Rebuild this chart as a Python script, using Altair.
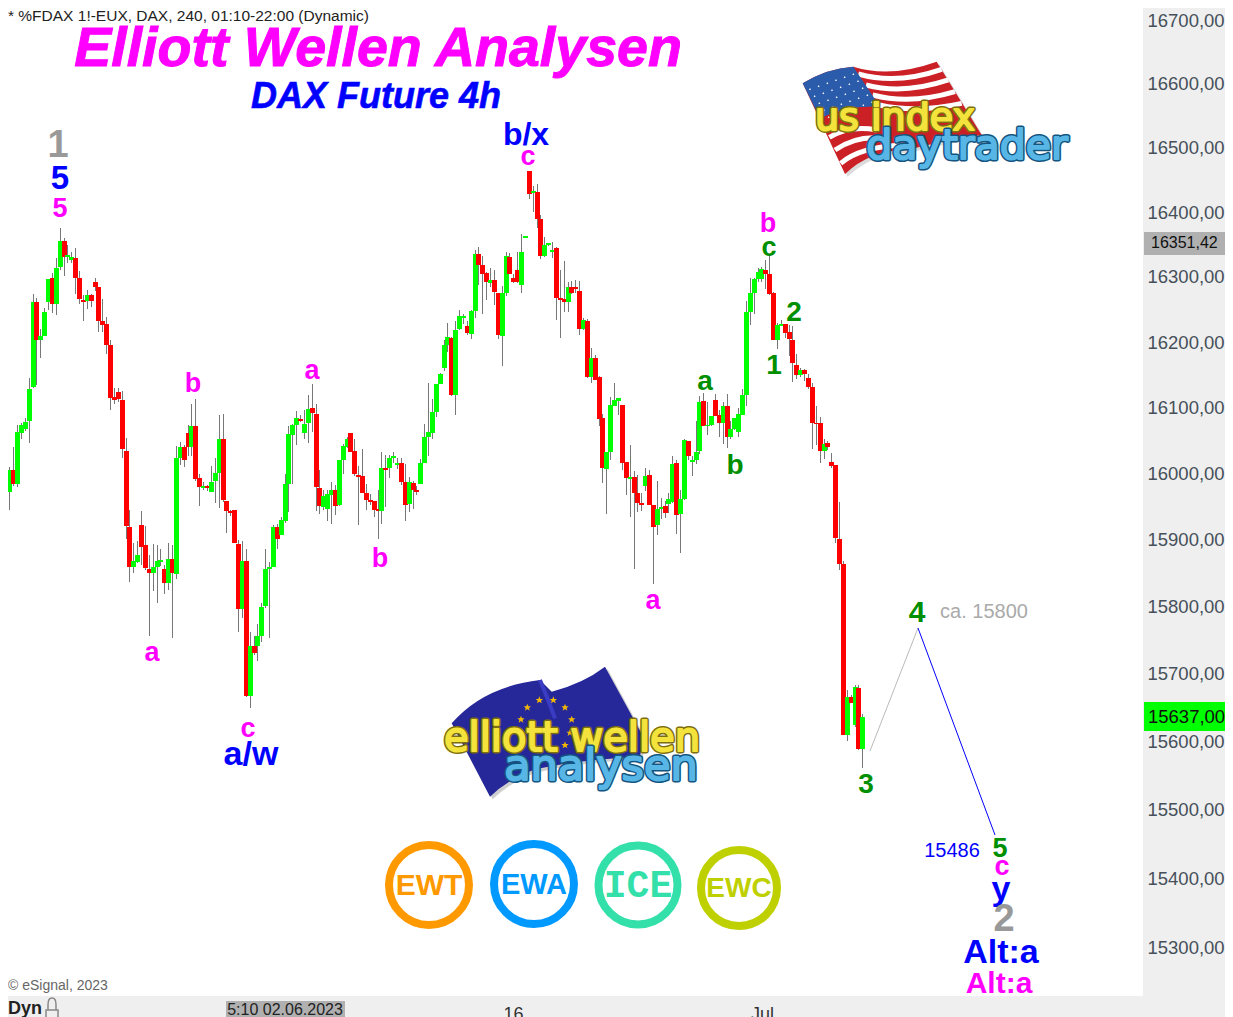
import re
import altair as alt
import pandas as pd

# open, high, low, close for every 4h bar
opens = [15938,15955,15973,16006,15985,16062,16068,16080,16132,16262,16204,16210,16262,16299,16259,16316,16356,16331,16327,16330,16299,16265,16264,16273,16293,16285,16233,16228,16196,16117,16125,16112,16035,15920,15860,15868,15923,15893,15857,15851,15860,15868,15857,15836,15872,15850,16024,16041,16062,16041,16072,15994,15979,15982,15973,15990,16002,16053,15960,15944,15946,15895,15797,15869,15668,15742,15742,15757,15802,15857,15860,15920,15908,15929,15985,16059,16075,16083,16062,16078,16100,16091,15979,15950,15947,15968,15976,15953,16021,16041,16062,16035,15999,15997,15971,15961,15960,15947,15944,16009,16009,16024,16014,16017,15988,15955,15986,15976,15985,16017,16056,16062,16094,16137,16161,16196,16207,16120,16221,16237,16225,16213,16248,16336,16319,16306,16291,16296,16276,16210,16276,16331,16299,16311,16288,16361,16465,16431,16432,16390,16333,16350,16339,16345,16268,16266,16262,16285,16285,16279,16220,16233,16147,16176,16147,16085,16008,16033,16103,16111,16105,16018,15993,15996,15971,15956,15982,15999,15953,15923,15947,15952,15955,15958,16017,15940,15962,16050,16018,16021,16035,16111,16072,16075,16112,16090,16078,16103,16056,16068,16064,16090,16120,16247,16276,16297,16297,16311,16305,16276,16204,16225,16228,16216,16204,16166,16151,16158,16146,16132,16078,16078,16035,16047,16018,16014,15902,15865,15611,15666,15625,15680,15590]
highs = [15962,15989,16011,16041,16075,16078,16085,16146,16274,16269,16220,16253,16297,16306,16330,16376,16361,16350,16339,16345,16310,16273,16280,16274,16299,16285,16266,16239,16204,16131,16131,16126,16055,15946,15896,15899,15944,15922,15878,15895,15893,15887,15863,15896,15893,16043,16049,16044,16075,16106,16114,16000,15988,15983,16012,16024,16090,16091,15960,15946,15946,15901,15899,15887,15763,15757,15775,15806,15887,15868,15923,15925,15935,16000,16073,16076,16095,16089,16097,16120,16137,16106,16006,15976,15976,15988,15983,16021,16046,16056,16062,16053,16012,16038,15985,15970,15960,15976,16033,16029,16029,16033,16024,16024,16015,15996,15989,15982,16023,16076,16138,16114,16137,16153,16204,16230,16208,16233,16250,16244,16233,16250,16342,16347,16333,16308,16314,16311,16276,16287,16339,16337,16305,16339,16367,16364,16465,16442,16444,16397,16362,16353,16355,16347,16311,16325,16293,16294,16296,16294,16237,16236,16191,16181,16149,16091,16033,16117,16138,16115,16105,16018,16044,16005,15999,15971,16009,16006,15953,15989,15964,15960,15971,16027,16021,15976,16053,16050,16027,16080,16118,16123,16109,16088,16121,16097,16109,16121,16080,16085,16100,16129,16263,16299,16299,16314,16316,16327,16333,16277,16230,16234,16228,16227,16225,16182,16161,16159,16152,16138,16103,16087,16053,16050,16032,16014,15958,15869,15677,15670,15685,15685,15642]
lows = [15905,15946,15946,15982,15980,16053,16065,16047,16131,16135,16176,16210,16250,16245,16242,16311,16302,16322,16322,16274,16259,16233,16251,16255,16279,16216,16216,16182,16097,16106,16109,16024,15902,15838,15851,15866,15863,15856,15757,15824,15806,15862,15820,15826,15754,15842,16014,16011,16028,16028,15990,15952,15976,15975,15973,15956,15949,15958,15911,15937,15896,15763,15784,15666,15651,15729,15720,15748,15799,15754,15860,15887,15908,15926,15943,15985,16044,16079,16053,16047,16064,15944,15940,15946,15929,15925,15938,15952,16000,16040,16034,15997,15923,15971,15946,15953,15935,15902,15925,15950,15994,16017,16008,15983,15929,15943,15947,15968,15985,16017,16027,16053,16087,16137,16156,16185,16118,16090,16219,16229,16211,16205,16237,16288,16243,16265,16285,16257,16205,16164,16271,16305,16291,16291,16276,16361,16421,16401,16376,16328,16331,16348,16330,16234,16207,16247,16247,16274,16276,16211,16219,16146,16138,16143,16073,15987,15940,16021,16103,16090,16006,15968,15935,15857,15943,15944,15974,15953,15835,15908,15932,15934,15941,15956,15910,15881,15961,16021,15997,16015,16031,16072,16059,16072,16088,16056,16046,16040,16053,16067,16056,16090,16103,16227,16244,16293,16293,16282,16273,16204,16190,16225,16207,16179,16140,16144,16147,16141,16129,16038,16044,16017,16023,16037,16009,15896,15856,15611,15602,15658,15622,15589,15562]
closes = [15955,15973,16006,15985,16064,16075,16079,16129,16262,16204,16210,16247,16297,16259,16314,16356,16331,16334,16331,16299,16266,16262,16273,16264,16285,16233,16227,16196,16115,16112,16114,16038,15922,15860,15869,15878,15890,15859,15851,15860,15869,15871,15836,15872,15851,16024,16041,16021,16041,16073,15993,15980,15982,15979,15988,16002,16053,15961,15944,15941,15896,15797,15869,15668,15742,15732,15757,15800,15857,15860,15920,15902,15931,15985,16061,16075,16085,16080,16076,16099,16093,15980,15952,15967,15970,15976,15952,16021,16043,16053,16034,16000,15996,15971,15961,15958,15946,15944,16009,16006,16024,16027,16017,15988,15953,15988,15976,15973,16017,16056,16064,16094,16137,16152,16196,16208,16120,16219,16240,16241,16214,16248,16336,16319,16305,16293,16296,16277,16211,16276,16333,16305,16293,16293,16339,16364,16429,16434,16390,16333,16350,16353,16342,16268,16265,16262,16285,16276,16282,16220,16234,16147,16176,16143,16084,16009,16033,16105,16112,16115,16017,15994,15996,15971,15956,15953,15997,15953,15920,15947,15950,15941,15962,16015,15938,15962,16052,16027,16021,16033,16109,16072,16075,16088,16088,16078,16103,16056,16068,16085,16091,16120,16247,16276,16297,16308,16313,16305,16274,16204,16227,16228,16214,16205,16169,16151,16158,16152,16132,16078,16076,16035,16046,16041,16012,15904,15865,15611,15666,15658,15682,15590,15637]

# wave labels: text, bar position, price, colour, font size
MAG, BLU, GRN, GRY = "#ff00ff", "#0000ff", "#008f00", "#999999"
lab_text = ["1","5","5","b/x","c","b","a","a","c","a/w","b","a","b","c","2","1","a","b","3","4","5","c","y","2","Alt:a","Alt:a"]
lab_bar = [14.6,15.1,15.1,135.3,135.8,49.4,80.1,38.8,63.6,64.3,97.6,168,197.7,197.9,204.4,199.2,181.4,189.2,222.9,236.1,257.5,258,257.8,258.5,257.8,257.3]
lab_price = [16507,16455,16409,16524,16490,16140,16160,15735,15622,15584,15875,15812,16385,16348,16248,16167,16143,16015,15540,15794,15446,15420,15386,15343,15295,15250]
lab_color = [GRY,BLU,MAG,BLU,MAG,MAG,MAG,MAG,MAG,BLU,MAG,MAG,MAG,GRN,GRN,GRN,GRN,GRN,GRN,GRN,GRN,MAG,BLU,GRY,BLU,MAG]
lab_size = [38,33,27,32,27,27,27,27,27,34,27,27,27,27,28,28,28,28,28,30,27,27,34,38,34,30]

note_text = ["ca. 15800", "15486"]
note_bar = [253.5, 245.1]
note_price = [15794, 15442]
note_color = ["#aaaaaa", "#0000ff"]

proj_bar = [224, 236.4, 256.2]
proj_price = [15587, 15769, 15463]

price_ticks = list(range(15300, 16800, 100))
time_ticks = [132, 196.1]
time_names = ["16", "Jul"]

n = len(opens)
bars = pd.DataFrame({
    "i": range(n), "o": opens, "h": highs, "l": lows, "c": closes,
    "col": ["#00ff00" if c >= o else "#ff0000" for o, c in zip(opens, closes)],
    "lo": [min(o, c) for o, c in zip(opens, closes)],
    "hi": [max(o, c) for o, c in zip(opens, closes)],
})
labels = pd.DataFrame({"t": lab_text, "i": lab_bar, "p": lab_price, "col": lab_color, "fs": lab_size})
notes = pd.DataFrame({"t": note_text, "i": note_bar, "p": note_price, "col": note_color})

xs = alt.Scale(domain=[1.676, 294.4], nice=False, zero=False, round=True, padding=0)
ys = alt.Scale(type="log", domain=[15230.3, 16720], nice=False, round=True)
xexpr = f"datum.value=={time_ticks[0]}?'{time_names[0]}':'{time_names[1]}'"
X = alt.X("i:Q", scale=xs, title=None,
          axis=alt.Axis(values=time_ticks, labelExpr=xexpr, grid=False, domain=False, ticks=False,
                        labelPadding=9, labelFontSize=18, labelColor="#333333", labelFont="Liberation Sans"))
Y = alt.Y("l:Q", scale=ys, title=None,
          axis=alt.Axis(orient="right", values=price_ticks, grid=False, domain=False, ticks=False,
                        labelExpr="replace(format(datum.value,'.2f'),'.',',')", labelOffset=-1,
                        labelPadding=4, labelFontSize=18.5, labelColor="#46505a", labelFont="Liberation Sans"))
Xp = alt.X("i:Q", scale=xs, title=None)


def Yp(f):
    return alt.Y(f, scale=ys, title=None)


wicks = alt.Chart(bars).mark_rule(color="#777777", strokeWidth=1, xOffset=0.5).encode(x=X, y=Y, y2="h:Q")
bodies = alt.Chart(bars).mark_bar(size=5, xOffset=0.5).encode(
    x=Xp, y=Yp("lo:Q"), y2="hi:Q", color=alt.Color("col:N", scale=None))

seg = pd.DataFrame({"i": proj_bar[:-1], "i2": proj_bar[1:], "p": proj_price[:-1], "p2": proj_price[1:],
                    "col": ["#bbbbbb", "#0000ff"]})
proj = alt.Chart(seg).mark_rule(strokeWidth=1).encode(
    x=Xp, x2="i2:Q", y=Yp("p:Q"), y2="p2:Q", color=alt.Color("col:N", scale=None))

wave = alt.Chart(labels).mark_text(font="Liberation Sans", fontWeight="bold", baseline="middle", align="center", dy=2).encode(
    x=Xp, y=Yp("p:Q"), text="t:N", color=alt.Color("col:N", scale=None), size=alt.Size("fs:Q", scale=None))
note = alt.Chart(notes).mark_text(font="Liberation Sans", fontSize=20, baseline="middle", align="center", dy=1).encode(
    x=Xp, y=Yp("p:Q"), text="t:N", color=alt.Color("col:N", scale=None))

ONE = alt.InlineData(values=[{"a": 1}])


def txt(s, x, y, size, color, **kw):
    kw.setdefault("font", "Liberation Sans")
    kw.setdefault("align", "center")
    kw.setdefault("baseline", "middle")
    return alt.Chart(ONE).mark_text(text=s, fontSize=size, color=color, **kw).encode(
        x=alt.value(x - 8), y=alt.value(y - 8))


def box(x, x2, y, y2, color):
    return alt.Chart(ONE).mark_rect(color=color).encode(
        x=alt.value(x - 8), x2=alt.value(x2 - 8), y=alt.value(y - 8), y2=alt.value(y2 - 8))


def shp(d, ox, oy, cx, cy, R, fill=None, stroke=None, sw=0, op=1.0):
    path = re.sub(r"(-?[\d.]+),(-?[\d.]+)",
                  lambda m: f"{(ox + float(m[1]) / 3 - cx) / R:.4f},{(oy + float(m[2]) / 3 - cy) / R:.4f}", d)
    kw = {"color": fill} if fill else {"color": stroke}
    return alt.Chart(ONE).mark_point(shape=path, size=(2 * R) ** 2, filled=bool(fill), strokeWidth=sw,
                                     opacity=op, **kw).encode(x=alt.value(cx - 8), y=alt.value(cy - 8))


def outlined(s, x, y, size, fill, edge):
    f = "DejaVu Sans"
    return [txt(s, x, y, size, edge, font=f, stroke=edge, strokeWidth=5, strokeJoin="round"),
            txt(s, x, y, size, fill, font=f, stroke=fill, strokeWidth=2, strokeJoin="round")]


deco = []
# axis tags
deco += [box(1144, 1225, 232, 255, "#b0b0b0"), txt("16351,42", 1151, 243, 16, "#111111", align="left"),
         box(1144, 1225, 702, 731, "#00ff00"), txt("15637,00", 1148, 717, 18.5, "#111111", align="left")]
deco += [box(226, 345, 1001, 1017, "#b0b0b0"), txt("5:10 02.06.2023", 285, 1010, 16, "#222222")]
# headings
deco += [txt("* %FDAX 1!-EUX, DAX, 240, 01:10-22:00 (Dynamic)", 8, 16, 15.5, "#222222", align="left"),
         txt("© eSignal, 2023", 8, 986, 14, "#666666", align="left"),
         txt("Dyn", 8, 1009, 18, "#222222", align="left", fontWeight="bold"),
         txt("Elliott Wellen Analysen", 378, 49, 55.5, "#ff00ff", fontWeight="bold", fontStyle="italic",
             stroke="#ff00ff", strokeWidth=1),
         txt("DAX Future 4h", 376, 97, 36, "#0000ff", fontWeight="bold", fontStyle="italic",
             stroke="#0000ff", strokeWidth=0.6)]
# lock icon
deco.append(shp("M36,36 L36,20 Q36,0 48,0 Q60,0 60,20 L60,36 M30,36 L66,36 L66,90 L30,90 Z", 36, 998, 48, 1008, 14,
                stroke="#888888", sw=1.5))

# US flag logo
U = (790, 50, 930, 115, 160)
deco.append(shp("M46,108 Q118,63 198,58 Q308,93 448,43 L583,263 Q478,278 358,308 Q248,308 173,380 Z", *U,
                fill="#888888", op=0.3))
deco.append(shp("M38,100 Q110,55 190,50 Q300,85 440,35 L575,255 Q470,270 350,300 Q240,300 165,372 Z", *U, fill="#cc2027"))
for d in ["M205,72 Q320,105 455,58", "M228,105 Q340,135 475,90", "M248,135 Q360,165 495,125", "M268,165 Q380,190 515,160",
          "M118,262 Q180,225 260,240", "M135,300 Q200,255 280,265", "M152,340 Q210,290 340,285"]:
    deco.append(shp(d, *U, stroke="#ffffff", sw=5))
deco.append(shp("M38,100 Q110,55 190,50 L270,170 Q170,165 90,205 Z", *U, fill="#2a5cab"))
stars = ""
for r in range(5):
    for c in range(6):
        px, py = 60 + r * 14 + c * 26, 118 + r * 21 - c * 9
        if py > 60:
            stars += f"M{px - 3},{py} L{px},{py - 3} L{px + 3},{py} L{px},{py + 3} Z "
deco.append(shp(stars, *U, fill="#ffffff"))
deco += outlined("us index", 895, 119, 38, "#f3e33c", "#7d6e10")
deco += outlined("daytrader", 967, 147, 41, "#57b6e6", "#14557f")

# EU flag logo
E = (440, 660, 575, 735, 160)
deco.append(shp("M43,198 Q138,88 308,68 L343,103 Q438,78 503,28 L618,238 L608,298 Q408,308 288,338 Q208,368 158,418 Z", *E,
                fill="#888888", op=0.4))
deco.append(shp("M35,190 Q130,80 300,60 L335,95 Q430,70 495,20 L610,230 L600,290 Q400,300 280,330 Q200,360 150,410 Z", *E,
                fill="#26289a"))
deco.append(shp("M300,60 Q325,120 345,175", *E, stroke="#3a3cc4", sw=4))
star = ""
for sx, sy in [(262, 142), (298, 120), (340, 120), (375, 142), (395, 178), (243, 178), (375, 255), (390, 218)]:
    star += (f"M{sx},{sy - 11} L{sx + 3},{sy - 3} L{sx + 11},{sy - 3} L{sx + 5},{sy + 2} L{sx + 7},{sy + 10} "
             f"L{sx},{sy + 5} L{sx - 7},{sy + 10} L{sx - 5},{sy + 2} L{sx - 11},{sy - 3} L{sx - 3},{sy - 3} Z ")
deco.append(shp(star, *E, fill="#f2b705"))
deco += outlined("elliott wellen", 572, 739, 40, "#f3e33c", "#7d6e10")
deco += outlined("analysen", 601, 767, 43, "#57b6e6", "#14557f")

# round badges
for s, x, y, col, fam, fs, dia in [("EWT", 429, 885, "#ff9900", "Liberation Sans", 30, 80),
                                   ("EWA", 534, 884, "#0099ff", "Liberation Sans", 29, 80),
                                   ("ICE", 638, 885, "#33e0aa", "Liberation Mono", 38, 79),
                                   ("EWC", 739, 888, "#bfd000", "Liberation Sans", 28, 76)]:
    deco.append(alt.Chart(ONE).mark_point(shape="circle", size=dia ** 2, filled=False, color=col, strokeWidth=8, opacity=1).encode(
        x=alt.value(x - 8), y=alt.value(y - 8)))
    deco.append(txt(s, x, y + 1, fs, col, font=fam, fontWeight="bold"))

chart = alt.layer(wicks, bodies, proj, wave, note, *deco).properties(
    width=1135, height=988,
    padding={"left": 0, "top": 0, "right": 82, "bottom": 21},
    autosize=alt.AutoSizeParams(type="none"),
    background="#efefef",
).configure_view(fill="white", strokeWidth=0)

chart.save("out.html", embed_options={"renderer": "svg", "actions": False})
